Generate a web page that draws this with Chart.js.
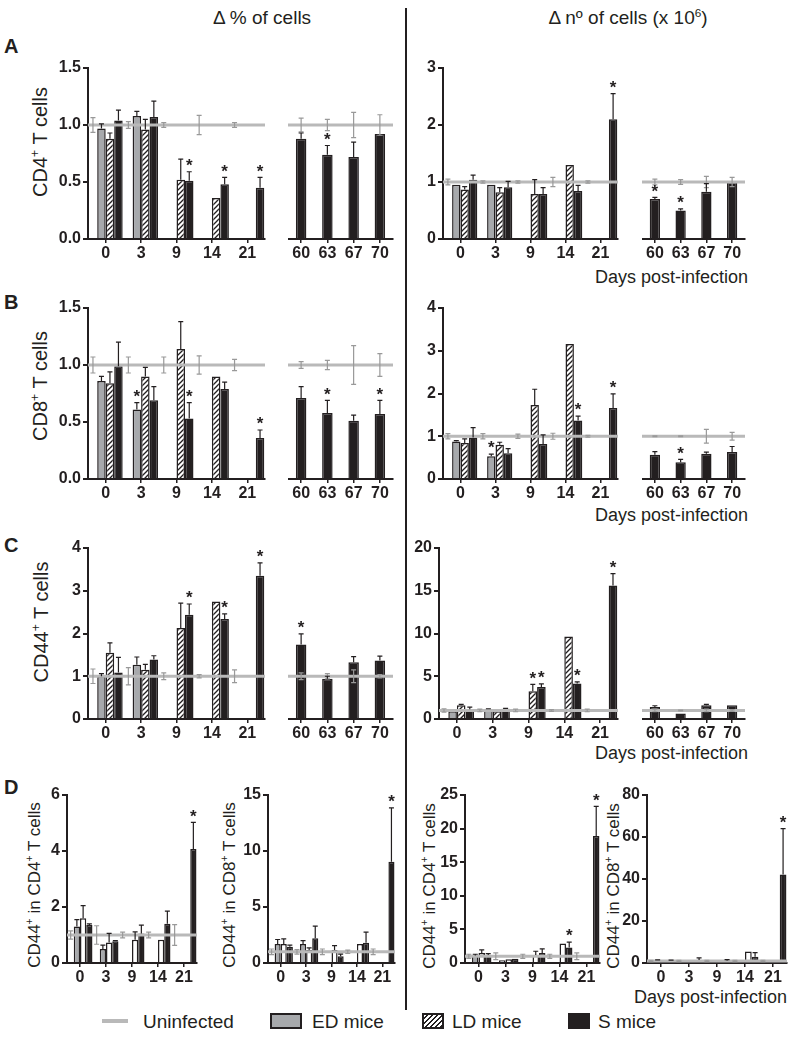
<!DOCTYPE html>
<html lang="en">
  <head>
    <meta charset="UTF-8" />
    <title>T cell changes after infection</title>
    <script src="https://cdn.jsdelivr.net/npm/chart.js"></script>
    <style>
      body {
        margin: 0;
        background: #fff;
        color: #231f20;
        font-family: "Liberation Sans", Arial, Helvetica, sans-serif;
      }
      #page {
        position: relative;
        width: 800px;
        height: 1040px;
        overflow: hidden;
      }
      #page canvas,
      .txt {
        position: absolute;
      }
      .txt {
        white-space: nowrap;
        line-height: 1;
      }
      .letter {
        font-weight: bold;
        font-size: 20px;
        left: 4px;
      }
      .head {
        font-size: 19px;
        transform: translateX(-50%);
        top: 8px;
      }
      .ytitle {
        font-size: 20px;
        transform: translate(-50%, -50%) rotate(-90deg);
      }
      .ytitle.small {
        font-size: 17px;
      }
      .days {
        font-size: 18px;
      }
      .legend {
        font-size: 19px;
        top: 1012px;
      }
      sup {
        font-size: 62%;
        line-height: 0;
      }
      .swatch {
        position: absolute;
        box-sizing: border-box;
        border: 2px solid #231f20;
        top: 1013px;
        height: 16px;
      }
    </style>
  </head>

  <body>
    <div id="page">
      <div class="txt head" style="left: 262px">&Delta; % of cells</div>
      <div class="txt head" style="left: 628px">&Delta; n&ordm; of cells (x 10<sup>6</sup>)</div>
      <div style="position: absolute; left: 405px; top: 8px; width: 2px; height: 1002px; background: #231f20"></div>

      <div class="txt letter" style="top: 36px">A</div>
      <div class="txt letter" style="top: 292px">B</div>
      <div class="txt letter" style="top: 535px">C</div>
      <div class="txt letter" style="top: 777px">D</div>

      <div class="txt ytitle" style="left: 40px; top: 142px">CD4<sup>+</sup> T cells</div>
      <div class="txt ytitle" style="left: 40px; top: 386px">CD8<sup>+</sup> T cells</div>
      <div class="txt ytitle" style="left: 41px; top: 622px">CD44<sup>+</sup> T cells</div>
      <div class="txt ytitle small" style="left: 34px; top: 885px">CD44<sup>+</sup> in CD4<sup>+</sup> T cells</div>
      <div class="txt ytitle small" style="left: 229px; top: 885px">CD44<sup>+</sup> in CD8<sup>+</sup> T cells</div>
      <div class="txt ytitle small" style="left: 429px; top: 886px">CD44<sup>+</sup> in CD4<sup>+</sup> T cells</div>
      <div class="txt ytitle small" style="left: 613px; top: 886px">CD44<sup>+</sup> in CD8<sup>+</sup> T cells</div>

      <div class="txt days" style="right: 52px; top: 268px">Days post-infection</div>
      <div class="txt days" style="right: 52px; top: 506px">Days post-infection</div>
      <div class="txt days" style="right: 52px; top: 744px">Days post-infection</div>
      <div class="txt days" style="right: 13px; top: 988px">Days post-infection</div>

      <div style="position: absolute; left: 102px; top: 1019px; width: 26px; height: 4px; background: #b9b9b9"></div>
      <div class="txt legend" style="left: 143px">Uninfected</div>
      <div class="swatch" style="left: 270px; width: 32px; background: #a7a9ac"></div>
      <div class="txt legend" style="left: 312px">ED mice</div>
      <div class="swatch" style="left: 422px; width: 22px; background: repeating-linear-gradient(135deg, #fff 0 2px, #231f20 2px 3.5px)"></div>
      <div class="txt legend" style="left: 452px">LD mice</div>
      <div class="swatch" style="left: 568px; width: 22px; background: #231f20"></div>
      <div class="txt legend" style="left: 598px">S mice</div>
    </div>

    <script>
      const earlyDays = ["0", "3", "9", "14", "21"];
      const lateDays = ["60", "63", "67", "70"];
      const uninfMean = [1, 1, 1, 1, 1];
      const uninfMeanLate = [1, 1, 1, 1];

      // A - CD4+ T cells, % of cells
      const aPctEd = [0.97, 1.08, null, null, null];
      const aPctEdErr = [0.04, 0.04, 0, 0, 0];
      const aPctLd = [0.88, 0.96, 0.52, 0.36, null];
      const aPctLdErr = [0.05, 0.09, 0.18, 0, 0];
      const aPctS = [1.04, 1.07, 0.51, 0.48, 0.45];
      const aPctSErr = [0.09, 0.14, 0.08, 0.06, 0.09];
      const aPctSStar = [0, 0, 1, 1, 1];
      const aPctUnErr = [0.065, 0.03, 0.02, 0.085, 0.02];
      const aPctLate = [0.88, 0.74, 0.72, 0.92];
      const aPctLateErr = [0.05, 0.08, 0.13, 0];
      const aPctLateStar = [0, 1, 0, 0];
      const aPctLateUnErr = [0.06, 0.05, 0.11, 0.09];

      // A - CD4+ T cells, number of cells
      const aNumEd = [0.95, 0.95, null, null, null];
      const aNumEdErr = [0, 0, 0, 0, 0];
      const aNumLd = [0.87, 0.82, 0.79, 1.3, null];
      const aNumLdErr = [0.05, 0.08, 0.25, 0, 0];
      const aNumS = [1.04, 0.91, 0.79, 0.84, 2.1];
      const aNumSErr = [0.08, 0.1, 0.11, 0.1, 0.45];
      const aNumSStar = [0, 0, 0, 0, 1];
      const aNumUnErr = [0.05, 0.02, 0.02, 0.08, 0.02];
      const aNumLate = [0.7, 0.5, 0.83, 1.0];
      const aNumLateErr = [0.03, 0.03, 0.14, 0];
      const aNumLateStar = [1, 1, 0, 0];
      const aNumLateUnErr = [0.05, 0.04, 0.1, 0.08];

      // B - CD8+ T cells, % of cells
      const bPctEd = [0.86, 0.61, null, null, null];
      const bPctEdErr = [0.04, 0.06, 0, 0, 0];
      const bPctEdStar = [0, 1, 0, 0, 0];
      const bPctLd = [0.84, 0.9, 1.14, 0.9, null];
      const bPctLdErr = [0.1, 0.08, 0.24, 0, 0];
      const bPctS = [0.99, 0.69, 0.53, 0.79, 0.36];
      const bPctSErr = [0.21, 0.12, 0.14, 0.06, 0.07];
      const bPctSStar = [0, 0, 1, 0, 1];
      const bPctUnErr = [0.07, 0.07, 0.07, 0.08, 0.05];
      const bPctLate = [0.71, 0.58, 0.51, 0.57];
      const bPctLateErr = [0.1, 0.11, 0.05, 0.12];
      const bPctLateStar = [0, 1, 0, 1];
      const bPctLateUnErr = [0.03, 0.04, 0.17, 0.1];

      // B - CD8+ T cells, number of cells
      const bNumEd = [0.88, 0.53, null, null, null];
      const bNumEdErr = [0.02, 0.05, 0, 0, 0];
      const bNumEdStar = [0, 1, 0, 0, 0];
      const bNumLd = [0.84, 0.8, 1.73, 3.16, null];
      const bNumLdErr = [0.1, 0.06, 0.37, 0, 0];
      const bNumS = [0.97, 0.6, 0.82, 1.37, 1.66];
      const bNumSErr = [0.23, 0.11, 0.21, 0.1, 0.33];
      const bNumSStar = [0, 0, 0, 1, 1];
      const bNumUnErr = [0.06, 0.06, 0.05, 0.07, 0.02];
      const bNumLate = [0.57, 0.39, 0.59, 0.63];
      const bNumLateErr = [0.07, 0.07, 0.04, 0.13];
      const bNumLateStar = [0, 1, 0, 0];
      const bNumLateUnErr = [0.01, 0.01, 0.16, 0.09];

      // C - CD44+ T cells, % of cells
      const cPctEd = [1.0, 1.27, null, null, null];
      const cPctEdErr = [0.06, 0.18, 0, 0, 0];
      const cPctLd = [1.55, 1.15, 2.13, 2.75, null];
      const cPctLdErr = [0.23, 0.13, 0.58, 0, 0];
      const cPctS = [1.09, 1.39, 2.44, 2.34, 3.35];
      const cPctSErr = [0.35, 0.09, 0.25, 0.12, 0.3];
      const cPctSStar = [0, 0, 1, 1, 1];
      const cPctUnErr = [0.17, 0.2, 0.08, 0.04, 0.15];
      const cPctLate = [1.74, 0.94, 1.33, 1.37];
      const cPctLateErr = [0.25, 0.06, 0.13, 0.1];
      const cPctLateStar = [1, 0, 0, 0];
      const cPctLateUnErr = [0.08, 0.06, 0.15, 0.04];

      // C - CD44+ T cells, number of cells
      const cNumEd = [0.9, 1.15, null, null, null];
      const cNumEdErr = [0, 0.05, 0, 0, 0];
      const cNumLd = [1.6, 0.9, 3.25, 9.65, null];
      const cNumLdErr = [0.1, 0, 0.8, 0, 0];
      const cNumLdStar = [0, 0, 1, 0, 0];
      const cNumS = [1.15, 1.2, 3.75, 4.15, 15.6];
      const cNumSErr = [0.25, 0.05, 0.35, 0.2, 1.4];
      const cNumSStar = [0, 0, 1, 1, 1];
      const cNumUnErr = [0.2, 0.15, 0.15, 0.1, 0.15];
      const cNumLate = [1.4, 0.65, 1.6, 1.6];
      const cNumLateErr = [0.15, 0, 0.1, 0];
      const cNumLateUnErr = [0.15, 0.05, 0.15, 0.1];

      // D - CD44+ in CD4+ / CD8+ T cells (% and number)
      const d1Ed = [1.3, 0.5, null, null, null];
      const d1EdErr = [0.25, 0.14, 0, 0, 0];
      const d1Ld = [1.6, 0.73, 0.83, 0.83, null];
      const d1LdErr = [0.45, 0.33, 0.28, 0, 0];
      const d1S = [1.36, 0.78, 1.05, 1.4, 4.07];
      const d1SErr = [0.04, 0.02, 0.3, 0.45, 0.95];
      const d1UnErr = [0.15, 0.33, 0.1, 0.1, 0.37];

      const d2Ed = [1.7, 1.7, null, null, null];
      const d2EdErr = [0.4, 0.3, 0, 0, 0];
      const d2Ld = [1.7, 1.15, 1.15, 1.7, null];
      const d2LdErr = [0.45, 0.2, 0.4, 0, 0];
      const d2S = [1.45, 2.2, 0.6, 1.8, 9.05];
      const d2SErr = [0.15, 1.1, 0.2, 0.95, 4.8];
      const d2UnErr = [0.25, 0.2, 0.25, 0.15, 0.25];

      const d3Ed = [1.1, 0.4, null, null, null];
      const d3EdErr = [0.2, 0, 0, 0, 0];
      const d3Ld = [1.5, 0.55, 1.2, 2.9, null];
      const d3LdErr = [0.45, 0, 0.55, 0, 0];
      const d3S = [1.2, 0.65, 1.5, 2.3, 18.9];
      const d3SErr = [0.2, 0, 0.6, 0.8, 4.4];
      const d3SStar = [0, 0, 0, 1, 1];
      const d3UnErr = [0.3, 0.5, 0.3, 0.3, 0.5];

      const d4Ed = [1.3, 0.8, null, null, null];
      const d4EdErr = [0.2, 0, 0, 0, 0];
      const d4Ld = [1.4, 0.5, 1.2, 5.5, null];
      const d4LdErr = [0, 0, 0, 0, 0];
      const d4S = [1.1, 1.4, 1.1, 3.0, 42.1];
      const d4SErr = [0.3, 1.0, 0.5, 1.9, 21.9];
      const d4UnErr = [0.3, 0.3, 0.3, 0.3, 0.3];

      const lastOnly = [0, 0, 0, 0, 1];

      const page = document.getElementById("page");
      const INK = "#231f20";
      const GREY = "#a7a9ac";
      const LINE_GREY = "#b9b9b9";
      const ERR_GREY = "#999";
      const FONT = '"Liberation Sans", Arial, Helvetica, sans-serif';
      const PAD_TOP = 22;
      const X_H = 28;
      const Y_W = 56;
      const PAD_R = 4;

      Chart.defaults.font.family = FONT;

      function hatch() {
        const c = document.createElement("canvas");
        c.width = 5;
        c.height = 5;
        const g = c.getContext("2d");
        g.fillStyle = "#fff";
        g.fillRect(0, 0, 5, 5);
        g.strokeStyle = INK;
        g.lineWidth = 1.3;
        g.beginPath();
        g.moveTo(0, 5);
        g.lineTo(5, 0);
        g.moveTo(-1, 1);
        g.lineTo(1, -1);
        g.moveTo(4, 6);
        g.lineTo(6, 4);
        g.stroke();
        return g.createPattern(c, "repeat");
      }
      const HATCH = hatch();

      // uninfected line + error bars + significance stars
      const overlay = {
        id: "overlay",
        afterDatasetsDraw(chart) {
          const { ctx, chartArea: a } = chart;
          const y = chart.scales.y;
          ctx.save();
          const yb = y.getPixelForValue(chart.data.datasets[0].data[0]);
          ctx.strokeStyle = LINE_GREY;
          ctx.lineWidth = 3;
          ctx.beginPath();
          ctx.moveTo(a.left, yb);
          ctx.lineTo(a.right, yb);
          ctx.stroke();

          chart.data.datasets.forEach((ds, di) => {
            chart.getDatasetMeta(di).data.forEach((bar, i) => {
              const v = ds.data[i];
              if (v == null) return;
              const e = (ds.errors && ds.errors[i]) || 0;
              const top = y.getPixelForValue(v + e);
              ctx.lineWidth = 1.2;
              if (ds.uninfected) {
                if (!e) return;
                const bot = y.getPixelForValue(v - e);
                ctx.strokeStyle = ERR_GREY;
                ctx.beginPath();
                ctx.moveTo(bar.x, top);
                ctx.lineTo(bar.x, bot);
                ctx.moveTo(bar.x - 2.5, top);
                ctx.lineTo(bar.x + 2.5, top);
                ctx.moveTo(bar.x - 2.5, bot);
                ctx.lineTo(bar.x + 2.5, bot);
                ctx.stroke();
                return;
              }
              if (e) {
                ctx.strokeStyle = INK;
                ctx.beginPath();
                ctx.moveTo(bar.x, y.getPixelForValue(v));
                ctx.lineTo(bar.x, top);
                ctx.moveTo(bar.x - 2.5, top);
                ctx.lineTo(bar.x + 2.5, top);
                ctx.stroke();
              }
              if (ds.stars && ds.stars[i]) {
                ctx.fillStyle = INK;
                ctx.font = "bold 17px " + FONT;
                ctx.textAlign = "center";
                ctx.textBaseline = "top";
                ctx.fillText("*", bar.x, top - 14);
              }
            });
          });
          ctx.restore();
        },
      };

      function makeChart(box, showY, yAxis, labels, datasets) {
        const yw = showY ? Y_W : 0;
        const w = box.x1 - box.x0 + yw + PAD_R;
        const h = box.bottom - box.top + PAD_TOP + X_H;
        const cv = document.createElement("canvas");
        cv.width = w;
        cv.height = h;
        cv.style.left = box.x0 - yw + "px";
        cv.style.top = box.top - PAD_TOP + "px";
        cv.style.width = w + "px";
        cv.style.height = h + "px";
        page.appendChild(cv);

        const tickFont = { family: FONT, size: 16, weight: "bold" };
        return new Chart(cv, {
          type: "bar",
          data: { labels: labels, datasets: datasets },
          options: {
            responsive: false,
            animation: false,
            devicePixelRatio: 1,
            layout: { padding: { top: PAD_TOP, right: PAD_R, left: 0, bottom: 0 } },
            plugins: { legend: { display: false }, tooltip: { enabled: false } },
            scales: {
              x: {
                grid: {
                  display: true,
                  drawOnChartArea: false,
                  offset: false,
                  tickLength: 4,
                  color: INK,
                  lineWidth: 1.5,
                },
                border: { display: true, color: INK, width: 2 },
                ticks: { color: INK, font: tickFont, padding: 1, maxRotation: 0, autoSkip: false },
                afterFit: (s) => {
                  s.height = X_H;
                },
              },
              y: {
                display: showY,
                min: 0,
                max: yAxis.max,
                grid: {
                  display: true,
                  drawOnChartArea: false,
                  tickLength: 5,
                  color: INK,
                  lineWidth: 2,
                },
                border: { display: true, color: INK, width: 2 },
                ticks: {
                  stepSize: yAxis.step,
                  color: INK,
                  font: tickFont,
                  padding: 2,
                  callback: (v) => v.toFixed(yAxis.dec),
                },
                afterFit: (s) => {
                  s.width = yw;
                },
              },
            },
          },
          plugins: [overlay],
        });
      }

      function earlySets(p, ldFill) {
        const base = { barPercentage: 1, categoryPercentage: 0.96, borderColor: INK, borderWidth: 1.5 };
        return [
          { ...base, label: "Uninfected", data: uninfMean, errors: p.unErr, uninfected: true, backgroundColor: "rgba(0,0,0,0)", borderWidth: 0 },
          { ...base, label: "ED mice", data: p.ed, errors: p.edErr, stars: p.edStar, backgroundColor: GREY },
          { ...base, label: "LD mice", data: p.ld, errors: p.ldErr, stars: p.ldStar, backgroundColor: ldFill },
          { ...base, label: "S mice", data: p.s, errors: p.sErr, stars: p.sStar, backgroundColor: INK },
        ];
      }

      function lateSets(vals, errs, stars, unErr) {
        const base = { grouped: false, barPercentage: 1, categoryPercentage: 0.4, borderColor: INK, borderWidth: 1.5 };
        return [
          { ...base, label: "Uninfected", data: uninfMeanLate, errors: unErr, uninfected: true, backgroundColor: "rgba(0,0,0,0)", borderWidth: 0 },
          { ...base, label: "S mice", data: vals, errors: errs, stars: stars, backgroundColor: INK },
        ];
      }

      const pctAxis = { max: 1.5, step: 0.5, dec: 1 };

      // row A
      makeChart({ x0: 88, x1: 265, top: 68, bottom: 239 }, true, pctAxis, earlyDays,
        earlySets({ ed: aPctEd, edErr: aPctEdErr, ld: aPctLd, ldErr: aPctLdErr, s: aPctS, sErr: aPctSErr, sStar: aPctSStar, unErr: aPctUnErr }, HATCH));
      makeChart({ x0: 288, x1: 393, top: 68, bottom: 239 }, false, pctAxis, lateDays,
        lateSets(aPctLate, aPctLateErr, aPctLateStar, aPctLateUnErr));
      makeChart({ x0: 443, x1: 618, top: 68, bottom: 239 }, true, { max: 3, step: 1, dec: 0 }, earlyDays,
        earlySets({ ed: aNumEd, edErr: aNumEdErr, ld: aNumLd, ldErr: aNumLdErr, s: aNumS, sErr: aNumSErr, sStar: aNumSStar, unErr: aNumUnErr }, HATCH));
      makeChart({ x0: 642, x1: 745, top: 68, bottom: 239 }, false, { max: 3, step: 1, dec: 0 }, lateDays,
        lateSets(aNumLate, aNumLateErr, aNumLateStar, aNumLateUnErr));

      // row B
      makeChart({ x0: 88, x1: 265, top: 308, bottom: 479 }, true, pctAxis, earlyDays,
        earlySets({ ed: bPctEd, edErr: bPctEdErr, edStar: bPctEdStar, ld: bPctLd, ldErr: bPctLdErr, s: bPctS, sErr: bPctSErr, sStar: bPctSStar, unErr: bPctUnErr }, HATCH));
      makeChart({ x0: 288, x1: 393, top: 308, bottom: 479 }, false, pctAxis, lateDays,
        lateSets(bPctLate, bPctLateErr, bPctLateStar, bPctLateUnErr));
      makeChart({ x0: 443, x1: 618, top: 308, bottom: 479 }, true, { max: 4, step: 1, dec: 0 }, earlyDays,
        earlySets({ ed: bNumEd, edErr: bNumEdErr, edStar: bNumEdStar, ld: bNumLd, ldErr: bNumLdErr, s: bNumS, sErr: bNumSErr, sStar: bNumSStar, unErr: bNumUnErr }, HATCH));
      makeChart({ x0: 642, x1: 745, top: 308, bottom: 479 }, false, { max: 4, step: 1, dec: 0 }, lateDays,
        lateSets(bNumLate, bNumLateErr, bNumLateStar, bNumLateUnErr));

      // row C
      makeChart({ x0: 88, x1: 265, top: 548, bottom: 719 }, true, { max: 4, step: 1, dec: 0 }, earlyDays,
        earlySets({ ed: cPctEd, edErr: cPctEdErr, ld: cPctLd, ldErr: cPctLdErr, s: cPctS, sErr: cPctSErr, sStar: cPctSStar, unErr: cPctUnErr }, HATCH));
      makeChart({ x0: 288, x1: 393, top: 548, bottom: 719 }, false, { max: 4, step: 1, dec: 0 }, lateDays,
        lateSets(cPctLate, cPctLateErr, cPctLateStar, cPctLateUnErr));
      makeChart({ x0: 439, x1: 618, top: 548, bottom: 719 }, true, { max: 20, step: 5, dec: 0 }, earlyDays,
        earlySets({ ed: cNumEd, edErr: cNumEdErr, ld: cNumLd, ldErr: cNumLdErr, ldStar: cNumLdStar, s: cNumS, sErr: cNumSErr, sStar: cNumSStar, unErr: cNumUnErr }, HATCH));
      makeChart({ x0: 642, x1: 745, top: 548, bottom: 719 }, false, { max: 20, step: 5, dec: 0 }, lateDays,
        lateSets(cNumLate, cNumLateErr, null, cNumLateUnErr));

      // row D
      makeChart({ x0: 67, x1: 197, top: 795, bottom: 963 }, true, { max: 6, step: 2, dec: 0 }, earlyDays,
        earlySets({ ed: d1Ed, edErr: d1EdErr, ld: d1Ld, ldErr: d1LdErr, s: d1S, sErr: d1SErr, sStar: lastOnly, unErr: d1UnErr }, "#fff"));
      makeChart({ x0: 268, x1: 395, top: 795, bottom: 963 }, true, { max: 15, step: 5, dec: 0 }, earlyDays,
        earlySets({ ed: d2Ed, edErr: d2EdErr, ld: d2Ld, ldErr: d2LdErr, s: d2S, sErr: d2SErr, sStar: lastOnly, unErr: d2UnErr }, "#fff"));
      makeChart({ x0: 465, x1: 600, top: 795, bottom: 963 }, true, { max: 25, step: 5, dec: 0 }, earlyDays,
        earlySets({ ed: d3Ed, edErr: d3EdErr, ld: d3Ld, ldErr: d3LdErr, s: d3S, sErr: d3SErr, sStar: d3SStar, unErr: d3UnErr }, "#fff"));
      makeChart({ x0: 647, x1: 787, top: 795, bottom: 963 }, true, { max: 80, step: 20, dec: 0 }, earlyDays,
        earlySets({ ed: d4Ed, edErr: d4EdErr, ld: d4Ld, ldErr: d4LdErr, s: d4S, sErr: d4SErr, sStar: lastOnly, unErr: d4UnErr }, "#fff"));
    </script>
  </body>
</html>
